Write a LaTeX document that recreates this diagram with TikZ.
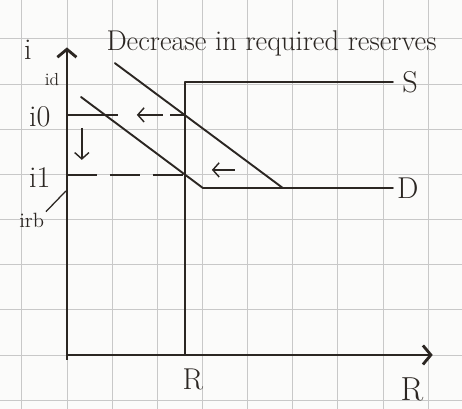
\documentclass[tikz,border=0pt]{standalone}
\usepackage{tikz}
\usetikzlibrary{arrows.meta}
\definecolor{inkdark}{HTML}{2B2622}
\definecolor{gridgray}{HTML}{C8C8C8}
\definecolor{paper}{HTML}{FBFBFA}

\begin{document}
\begin{tikzpicture}[x=0.6cm,y=0.6cm,
  ink/.style={inkdark, line width=1.2pt, line cap=round, line join=round},
  axisline/.style={inkdark, line width=1.8pt},
  guide/.style={inkdark, line width=0.9pt, dash pattern=on 19pt off 8pt},
  shiftarrow/.style={inkdark, line width=0.9pt, -{Straight Barb[length=4pt,width=9pt]}},
  lbl/.style={inkdark, inner sep=1pt, font=\fontsize{19}{19}\selectfont},
  smalllbl/.style={inkdark, inner sep=1pt, font=\fontsize{11}{11}\selectfont}]
  % paper and grid
  \fill[paper] (-2.47,-1.99) rectangle (14.58,13.1);
  \useasboundingbox (-2.47,-1.99) rectangle (14.58,13.1);
  \draw[gridgray, line width=0.5pt] (-2.47,-1.99) grid (14.58,13.1);
  % axes
  \coordinate (origin) at (0,0);
  \coordinate (ytop) at (0,11.35);
  \coordinate (ybot) at (0,-0.18);
  \coordinate (xend) at (13.5,0);
  \draw[axisline, -{Straight Barb[length=5pt,width=12pt]}] (ybot) -- (ytop);
  \draw[axisline, -{Straight Barb[length=5pt,width=12pt]}] (origin) -- (xend);
  % supply of reserves
  \coordinate (sbot) at (4.35,0);
  \coordinate (skink) at (4.35,10.07);
  \coordinate (send) at (12.03,10.07);
  \draw[ink] (sbot) -- (skink) -- (send);
  % demand before and after
  \coordinate (dold) at (1.77,10.77);
  \coordinate (doldkink) at (7.97,6.16);
  \coordinate (dnew) at (0.52,9.52);
  \coordinate (dnewkink) at (5.02,6.16);
  \coordinate (dend) at (12.03,6.16);
  \draw[ink] (dold) -- (doldkink);
  \draw[ink] (dnew) -- (dnewkink) -- (dend);
  % equilibrium rates
  \coordinate (izero) at (0,8.86);
  \coordinate (ezero) at (4.35,8.86);
  \coordinate (ione) at (0,6.64);
  \coordinate (eone) at (4.35,6.64);
  \draw[inkdark, line width=0.9pt, dash pattern=on 32pt off 33pt on 10pt] (izero) -- (ezero);
  \draw[guide] (ione) -- (eone);
  % shifts
  \coordinate (a1s) at (3.54,8.86);
  \coordinate (a1e) at (2.58,8.86);
  \coordinate (a2s) at (6.2,6.83);
  \coordinate (a2e) at (5.35,6.83);
  \coordinate (a3s) at (0.55,8.38);
  \coordinate (a3e) at (0.55,7.2);
  \draw[shiftarrow] (a1s) -- (a1e);
  \draw[shiftarrow] (a2s) -- (a2e);
  \draw[shiftarrow] (a3s) -- (a3e);
  % labels
  \node[lbl, font=\fontsize{18}{18}\selectfont] (title) at (7.55,11.5) {Decrease in required reserves};
  \node[lbl] (ilbl) at (-1.44,11.25) {i};
  \node[smalllbl] (idlbl) at (-0.55,10.15) {id};
  \node[lbl] (izerolbl) at (-1.0,8.78) {i0};
  \node[lbl] (ionelbl) at (-1.0,6.53) {i1};
  \node[smalllbl, font=\fontsize{13}{13}\selectfont] (irblbl) at (-1.3,4.95) {irb};
  \coordinate (irbtip) at (-0.04,6.05);
  \draw[inkdark, line width=0.8pt] (irblbl.north east) -- (irbtip);
  \node[lbl] (slbl) at (12.66,10.07) {S};
  \node[lbl] (dlbl) at (12.58,6.16) {D};
  \node[lbl] (rlbl) at (4.65,-0.92) {R};
  \node[lbl, font=\fontsize{21}{21}\selectfont] (raxis) at (12.73,-1.28) {R};
\end{tikzpicture}
\end{document}
